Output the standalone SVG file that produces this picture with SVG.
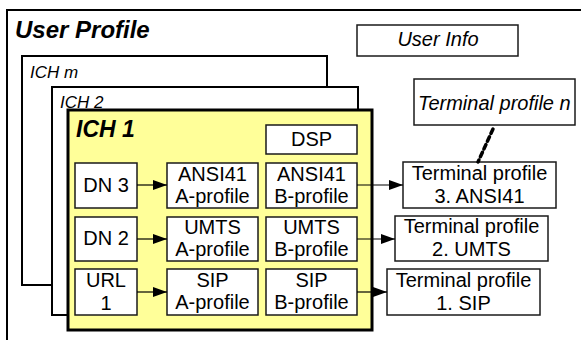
<svg xmlns="http://www.w3.org/2000/svg" width="581" height="340" viewBox="0 0 581 340">
<defs>
<style>
text{font-family:"Liberation Sans",Arial,sans-serif;fill:#000}
.box{fill:#fff;stroke:#1a1a1a;stroke-width:1.5}
.frame{fill:#fff;stroke:#000;stroke-width:2}
.t{font-size:20px;text-anchor:middle}
.it{font-style:italic}
.conn{stroke:#000;stroke-width:1.2;fill:none}
</style>
<marker id="ah" viewBox="0 0 14 10" refX="14" refY="5" markerWidth="14" markerHeight="10" markerUnits="userSpaceOnUse" orient="auto">
<path d="M0,0 L14,5 L0,10 Z" fill="#000"/>
</marker>
</defs>
<g id="user-profile">
<path d="M7,345 L7,10 L590,10" fill="#fff" stroke="#000" stroke-width="2"/>
<text x="15" y="38" font-size="24" font-weight="bold" class="it">User Profile</text>
</g>
<g id="user-info">
<rect x="357" y="25" width="161" height="31" class="box"/>
<text x="438" y="46" class="t it">User Info</text>
</g>
<g id="ich-m">
<rect x="22" y="56" width="305" height="229" class="frame"/>
<text x="30" y="78" font-size="17" class="it">ICH m</text>
</g>
<g id="ich-2">
<rect x="52" y="87" width="306" height="228" class="frame"/>
<text x="60" y="108" font-size="17" class="it">ICH 2</text>
</g>
<g id="ich-1">
<rect x="68" y="110" width="304" height="220" fill="#ffff99" stroke="#000" stroke-width="3"/>
<text x="76" y="137" font-size="23" font-weight="bold" class="it">ICH 1</text>
</g>
<g id="dsp">
<rect x="266" y="125" width="91" height="29" class="box"/>
<text x="311.5" y="146" class="t">DSP</text>
</g>
<g id="dn3">
<rect x="75" y="163" width="62" height="45" class="box"/>
<text x="106" y="192" class="t">DN 3</text>
</g>
<g id="dn2">
<rect x="75" y="217" width="62" height="44" class="box"/>
<text x="106" y="245" class="t">DN 2</text>
</g>
<g id="url1">
<rect x="75" y="269" width="62" height="46" class="box"/>
<text x="106" y="287" class="t">URL</text>
<text x="106" y="310" class="t">1</text>
</g>
<g id="ansi41-a">
<rect x="167" y="163" width="91" height="45" class="box"/>
<text x="212.5" y="181" class="t">ANSI41</text>
<text x="212.5" y="203" class="t">A-profile</text>
</g>
<g id="umts-a">
<rect x="167" y="217" width="91" height="44" class="box"/>
<text x="212.5" y="234" class="t">UMTS</text>
<text x="212.5" y="256" class="t">A-profile</text>
</g>
<g id="sip-a">
<rect x="167" y="269" width="91" height="46" class="box"/>
<text x="212.5" y="287" class="t">SIP</text>
<text x="212.5" y="309" class="t">A-profile</text>
</g>
<g id="ansi41-b">
<rect x="266" y="163" width="91" height="45" class="box"/>
<text x="311.5" y="181" class="t">ANSI41</text>
<text x="311.5" y="203" class="t">B-profile</text>
</g>
<g id="umts-b">
<rect x="266" y="217" width="91" height="44" class="box"/>
<text x="311.5" y="234" class="t">UMTS</text>
<text x="311.5" y="256" class="t">B-profile</text>
</g>
<g id="sip-b">
<rect x="266" y="269" width="91" height="46" class="box"/>
<text x="311.5" y="287" class="t">SIP</text>
<text x="311.5" y="309" class="t">B-profile</text>
</g>
<g id="terminal-n">
<rect x="414" y="79" width="161" height="46" class="box"/>
<text x="418" y="110" font-size="20" class="it">Terminal profile n</text>
</g>
<g id="terminal-3">
<rect x="403" y="162" width="153" height="46" class="box"/>
<text x="479.5" y="180" class="t">Terminal profile</text>
<text x="479.5" y="203" class="t">3. ANSI41</text>
</g>
<g id="terminal-2">
<rect x="395" y="216" width="153" height="45" class="box"/>
<text x="471.5" y="233" class="t">Terminal profile</text>
<text x="471.5" y="256" class="t">2. UMTS</text>
</g>
<g id="terminal-1">
<rect x="387" y="269" width="153" height="46" class="box"/>
<text x="463.5" y="287" class="t">Terminal profile</text>
<text x="463.5" y="310" class="t">1. SIP</text>
</g>
<g id="connectors">
<line x1="137" y1="185" x2="167" y2="185" class="conn" marker-end="url(#ah)"/>
<line x1="137" y1="239" x2="167" y2="239" class="conn" marker-end="url(#ah)"/>
<line x1="137" y1="292" x2="167" y2="292" class="conn" marker-end="url(#ah)"/>
<line x1="357" y1="185" x2="403" y2="185" class="conn" marker-end="url(#ah)"/>
<line x1="357" y1="239" x2="395" y2="239" class="conn" marker-end="url(#ah)"/>
<line x1="357" y1="292" x2="387" y2="292" class="conn" marker-end="url(#ah)"/>
<line x1="493" y1="129" x2="478" y2="162" stroke="#000" stroke-width="3.5" stroke-dasharray="5,3.5" stroke-linecap="round"/>
</g>
</svg>
